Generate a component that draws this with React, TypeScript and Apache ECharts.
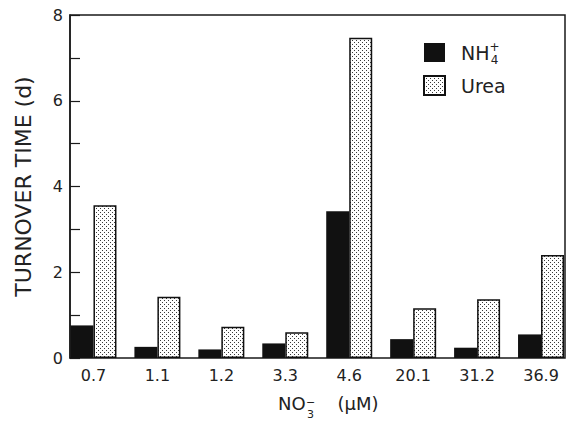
import React, { useEffect, useRef } from "react";
import * as echarts from "echarts";

const categories = ["0.7", "1.1", "1.2", "3.3", "4.6", "20.1", "31.2", "36.9"];
const nh4Values = [0.76, 0.26, 0.2, 0.34, 3.42, 0.44, 0.24, 0.55];
const ureaValues = [3.56, 1.43, 0.73, 0.6, 7.47, 1.16, 1.37, 2.4];
const yLabelTicks = [0, 2, 4, 6, 8];
const seriesNames = ["NH4+", "Urea"];

const FONT = "DejaVu Sans";
const INK = "#1a1a1a";

export default function App() {
  const ref = useRef<HTMLDivElement>(null);
  useEffect(() => {
    const cv = document.createElement("canvas");
    cv.width = 4;
    cv.height = 4;
    const ctx = cv.getContext("2d")!;
    ctx.fillStyle = "#ffffff";
    ctx.fillRect(0, 0, 4, 4);
    ctx.fillStyle = "#3a3a3a";
    ctx.fillRect(0, 0, 1, 1);
    ctx.fillRect(2, 2, 1, 1);
    const url = cv.toDataURL();
    const pattern: any = { image: url, repeat: "repeat", imageWidth: 4, imageHeight: 4 };

    const chart = echarts.init(ref.current!, null, { renderer: "svg" });
    chart.setOption({
      animation: false,
      backgroundColor: "#ffffff",
      textStyle: { fontFamily: FONT },
      grid: [
        { left: 61.5, top: 15, width: 512, height: 343 },
        {
          left: 70,
          top: 15,
          width: 495,
          height: 343,
          show: true,
          borderColor: INK,
          borderWidth: 1.5,
          backgroundColor: "transparent",
        },
      ],
      xAxis: [
        {
          type: "category",
          gridIndex: 0,
          data: categories,
          axisLine: { show: false },
          axisTick: { show: false },
          axisLabel: { fontSize: 16, color: "#222", margin: 9, fontFamily: FONT },
          name: "{a|NO}{b|(μM)}",
          nameLocation: "middle",
          nameGap: 36,
          nameTextStyle: {
            fontSize: 18,
            color: "#222",
            fontFamily: FONT,
            padding: [0, 0, 0, 22],
            rich: {
              a: { fontSize: 18, color: "#222", fontFamily: FONT },
              b: { fontSize: 18, color: "#222", fontFamily: FONT, padding: [0, 0, 0, 32] },
            },
          },
        },
        { type: "value", gridIndex: 1, show: false, min: 0, max: 1 },
      ],
      yAxis: [
        { type: "value", gridIndex: 0, min: 0, max: 8, show: false },
        {
          type: "value",
          gridIndex: 1,
          min: 0,
          max: 8,
          interval: 1,
          axisLine: { show: true, lineStyle: { color: INK, width: 1.5 } },
          axisTick: { show: true, inside: true, length: 10, lineStyle: { color: INK, width: 1.2 } },
          splitLine: { show: false },
          axisLabel: {
            formatter: (v: number) => (yLabelTicks.indexOf(v) >= 0 ? String(v) : ""),
            fontSize: 16,
            margin: 7,
            color: "#222",
            fontFamily: FONT,
          },
          name: "TURNOVER TIME (d)",
          nameLocation: "middle",
          nameGap: 36,
          nameTextStyle: { fontSize: 22, color: "#222", fontFamily: FONT },
        },
      ],
      legend: {
        orient: "vertical",
        left: 423,
        top: 43,
        padding: 0,
        itemWidth: 21,
        itemHeight: 19,
        itemGap: 13,
        icon: "rect",
        data: seriesNames,
        formatter: (name: string) => (name === "NH4+" ? "NH" : name),
        textStyle: {
          fontSize: 19,
          color: "#222",
          fontFamily: FONT,
          padding: [0, 0, 0, 11],
        },
      },
      graphic: [
        {
          type: "text",
          x: 494.5,
          y: 40,
          style: {
            text: "+\n4",
            fontSize: 12,
            lineHeight: 13,
            align: "center",
            verticalAlign: "top",
            fontFamily: FONT,
            fill: "#222",
          },
        },
        {
          type: "text",
          x: 310.5,
          y: 396,
          style: {
            text: "−\n3",
            fontSize: 11,
            lineHeight: 12,
            align: "center",
            verticalAlign: "top",
            fontFamily: FONT,
            fill: "#222",
          },
        },
      ],
      series: [
        {
          type: "bar",
          name: seriesNames[0],
          xAxisIndex: 0,
          yAxisIndex: 0,
          data: nh4Values,
          barWidth: 23,
          barGap: "0%",
          itemStyle: { color: "#111" },
        },
        {
          type: "bar",
          name: seriesNames[1],
          xAxisIndex: 0,
          yAxisIndex: 0,
          data: ureaValues,
          barWidth: 23,
          barGap: "0%",
          itemStyle: { color: pattern, borderColor: "#111", borderWidth: 1.5 },
        },
      ],
    });
    return () => chart.dispose();
  }, []);
  return (
    <div
      ref={ref}
      style={{ position: "absolute", left: 0, top: 0, width: 573, height: 423, background: "#fff" }}
    />
  );
}
